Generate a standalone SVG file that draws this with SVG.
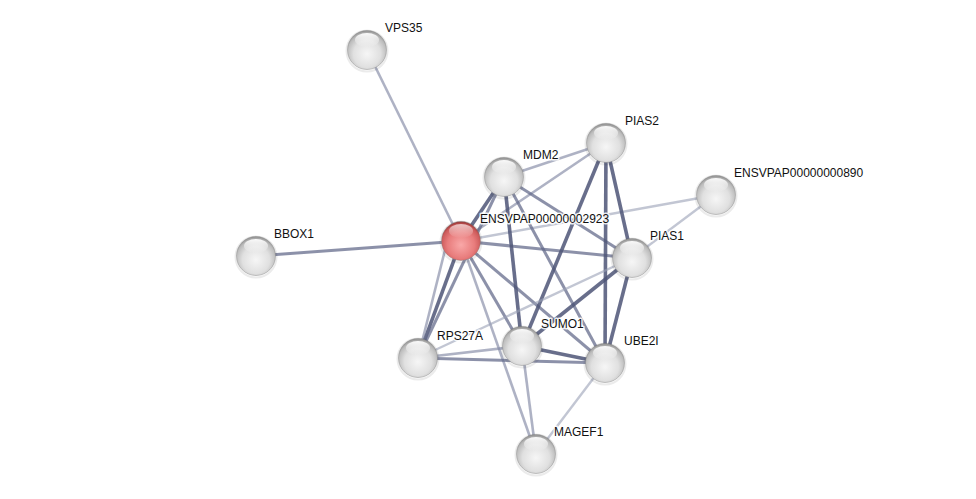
<svg xmlns="http://www.w3.org/2000/svg" width="976" height="499" viewBox="0 0 976 499">
<defs>
<radialGradient id="gGray" cx="0.5" cy="0.6" r="0.58">
<stop offset="0" stop-color="#f6f6f6"/>
<stop offset="0.6" stop-color="#e0e0e0"/>
<stop offset="0.88" stop-color="#bdbdbd"/>
<stop offset="1" stop-color="#999"/>
</radialGradient>
<radialGradient id="gRed" cx="0.5" cy="0.6" r="0.58">
<stop offset="0" stop-color="#f9a8a8"/>
<stop offset="0.6" stop-color="#e87c7c"/>
<stop offset="0.88" stop-color="#cc5a5a"/>
<stop offset="1" stop-color="#a03c3c"/>
</radialGradient>
<linearGradient id="gHi" x1="0" y1="0" x2="0" y2="1">
<stop offset="0" stop-color="#fff" stop-opacity="0.95"/>
<stop offset="1" stop-color="#fff" stop-opacity="0"/>
</linearGradient>
</defs>
<style>
.e{fill:none;stroke-linecap:butt}
.s1{stroke:#4d5577;stroke-width:3.6;stroke-opacity:0.85}
.s2{stroke:#5f6788;stroke-width:3;stroke-opacity:0.72}
.s3{stroke:#7c83a0;stroke-width:2.6;stroke-opacity:0.62}
.s4{stroke:#9aa0b6;stroke-width:2.4;stroke-opacity:0.6}
.n{stroke:#777;stroke-width:0.8;stroke-opacity:0.5}
.sh{fill:none;stroke:#000;stroke-opacity:0.08;stroke-width:2}
.hl{fill:url(#gHi)}
text{font-family:"Liberation Sans",Arial,sans-serif;font-size:12px;fill:#111;paint-order:stroke;stroke:#fff;stroke-width:3px;stroke-opacity:0.85;stroke-linejoin:round}
</style>
<rect width="976" height="499" fill="#fff"/>
<g id="edges">
<line class="e s3" x1="461" y1="241" x2="367" y2="50"/>
<line class="e s2" x1="461" y1="241" x2="256" y2="256"/>
<line class="e s1" x1="461" y1="241" x2="504" y2="177"/>
<line class="e s3" x1="461" y1="241" x2="606" y2="143"/>
<line class="e s4" x1="461" y1="241" x2="716" y2="195"/>
<line class="e s2" x1="461" y1="241" x2="632" y2="258"/>
<line class="e s1" x1="461" y1="241" x2="418" y2="358"/>
<line class="e s3" x1="446" y1="246" x2="418" y2="358"/>
<line class="e s2" x1="461" y1="241" x2="522" y2="346"/>
<line class="e s2" x1="461" y1="241" x2="605" y2="363"/>
<line class="e s3" x1="461" y1="241" x2="536" y2="454"/>
<line class="e s3" x1="504" y1="177" x2="606" y2="143"/>
<line class="e s2" x1="504" y1="177" x2="632" y2="258"/>
<line class="e s1" x1="504" y1="177" x2="522" y2="346"/>
<line class="e s2" x1="504" y1="177" x2="605" y2="363"/>
<line class="e s2" x1="504" y1="177" x2="418" y2="358"/>
<line class="e s1" x1="606" y1="143" x2="632" y2="258"/>
<line class="e s1" x1="606" y1="143" x2="605" y2="363"/>
<line class="e s1" x1="606" y1="143" x2="522" y2="346"/>
<line class="e s4" x1="716" y1="195" x2="632" y2="258"/>
<line class="e s1" x1="632" y1="258" x2="605" y2="363"/>
<line class="e s1" x1="632" y1="258" x2="522" y2="346"/>
<line class="e s4" x1="632" y1="258" x2="418" y2="358"/>
<line class="e s1" x1="522" y1="346" x2="605" y2="363"/>
<line class="e s3" x1="522" y1="346" x2="418" y2="358"/>
<line class="e s2" x1="418" y1="358" x2="605" y2="363"/>
<line class="e s3" x1="522" y1="346" x2="536" y2="454"/>
<line class="e s4" x1="605" y1="363" x2="536" y2="454"/>
</g>
<g id="n-vps35"><circle cx="367" cy="51" r="20.5" class="sh"/><circle cx="367" cy="50" r="19.5" fill="url(#gGray)" class="n"/><ellipse cx="367" cy="40" rx="12" ry="7" class="hl"/><text x="385" y="32">VPS35</text></g>
<g id="n-mdm2"><circle cx="504" cy="178" r="20.5" class="sh"/><circle cx="504" cy="177" r="19.5" fill="url(#gGray)" class="n"/><ellipse cx="504" cy="167" rx="12" ry="7" class="hl"/><text x="523" y="159">MDM2</text></g>
<g id="n-pias2"><circle cx="606" cy="144" r="20.5" class="sh"/><circle cx="606" cy="143" r="19.5" fill="url(#gGray)" class="n"/><ellipse cx="606" cy="133" rx="12" ry="7" class="hl"/><text x="625" y="125">PIAS2</text></g>
<g id="n-890"><circle cx="716" cy="196" r="20.5" class="sh"/><circle cx="716" cy="195" r="19.5" fill="url(#gGray)" class="n"/><ellipse cx="716" cy="185" rx="12" ry="7" class="hl"/><text x="734" y="177">ENSVPAP00000000890</text></g>
<g id="n-2923"><circle cx="461" cy="242" r="20.5" class="sh"/><circle cx="461" cy="241" r="19.5" fill="url(#gRed)" class="n"/><ellipse cx="461" cy="231" rx="12" ry="7" class="hl" opacity="0.7"/><text x="480" y="223">ENSVPAP00000002923</text></g>
<g id="n-bbox1"><circle cx="256" cy="257" r="20.5" class="sh"/><circle cx="256" cy="256" r="19.5" fill="url(#gGray)" class="n"/><ellipse cx="256" cy="246" rx="12" ry="7" class="hl"/><text x="274" y="238">BBOX1</text></g>
<g id="n-pias1"><circle cx="632" cy="259" r="20.5" class="sh"/><circle cx="632" cy="258" r="19.5" fill="url(#gGray)" class="n"/><ellipse cx="632" cy="248" rx="12" ry="7" class="hl"/><text x="650" y="240">PIAS1</text></g>
<g id="n-rps27a"><circle cx="418" cy="359" r="20.5" class="sh"/><circle cx="418" cy="358" r="19.5" fill="url(#gGray)" class="n"/><ellipse cx="418" cy="348" rx="12" ry="7" class="hl"/><text x="437" y="340">RPS27A</text></g>
<g id="n-sumo1"><circle cx="522" cy="347" r="20.5" class="sh"/><circle cx="522" cy="346" r="19.5" fill="url(#gGray)" class="n"/><ellipse cx="522" cy="336" rx="12" ry="7" class="hl"/><text x="541" y="328">SUMO1</text></g>
<g id="n-ube2i"><circle cx="605" cy="364" r="20.5" class="sh"/><circle cx="605" cy="363" r="19.5" fill="url(#gGray)" class="n"/><ellipse cx="605" cy="353" rx="12" ry="7" class="hl"/><text x="624" y="345">UBE2I</text></g>
<g id="n-magef1"><circle cx="536" cy="455" r="20.5" class="sh"/><circle cx="536" cy="454" r="19.5" fill="url(#gGray)" class="n"/><ellipse cx="536" cy="444" rx="12" ry="7" class="hl"/><text x="554" y="436">MAGEF1</text></g>
</svg>
